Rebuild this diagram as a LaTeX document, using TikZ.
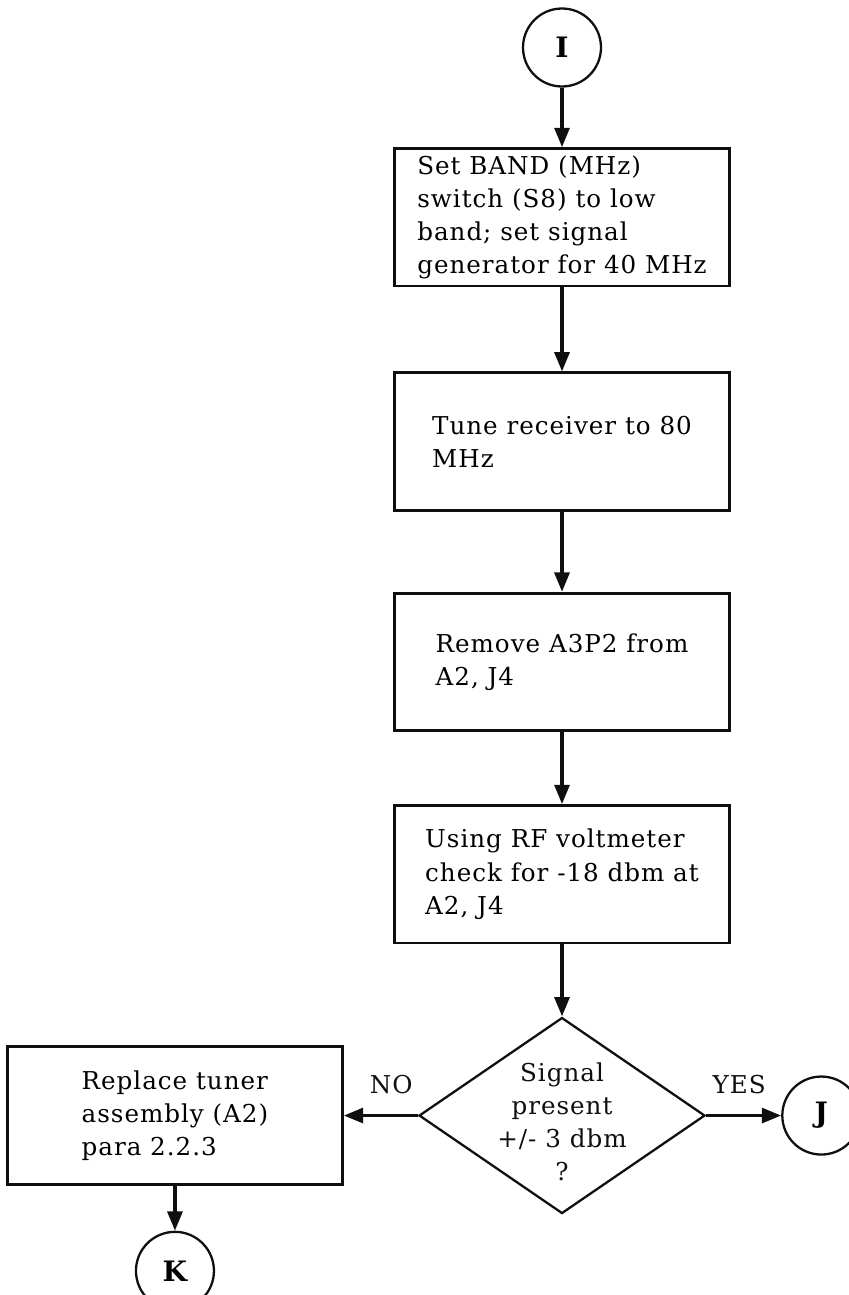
\documentclass[tikz,border=0pt]{standalone}
\usepackage{fontspec}
\setmainfont[LetterSpace=4]{DejaVu Serif}
\usetikzlibrary{shapes.geometric, arrows.meta, positioning}
\definecolor{colInk}{RGB}{15,15,15}
\tikzset{
  box/.style={
    rectangle, draw=colInk, line width=1.6pt,
    font=\fontsize{14}{18.8}\selectfont,
    align=left, inner sep=3pt
  },
  stepBox/.style={box, minimum width=6.7cm, minimum height=2.75cm},
  connector/.style={circle, draw=colInk, line width=1.3pt, minimum size=1.56cm, inner sep=0pt, font=\fontsize{16}{18}\selectfont\bfseries},
  decision/.style={diamond, draw=colInk, line width=1.3pt, minimum width=5.72cm, minimum height=3.92cm, inner sep=0pt},
  arr/.style={
    -{Triangle[length=11pt, width=8.5pt]}, line width=1.9pt, color=colInk
  },
  flowLabel/.style={font=\fontsize{14}{18.8}\selectfont, text=colInk}
}

\begin{document}
\begin{tikzpicture}[node distance=1.44cm]
  \useasboundingbox (0,0) rectangle (16.96,-25.9);

  \node[connector] (entryI) at (11.24,-0.95) {I};
  \node[stepBox, below=1.19cm of entryI] (setBand) {Set BAND (MHz)\\switch (S8) to low\\band; set signal\\generator for 40 MHz};
  \node[stepBox, below=1.68cm of setBand] (tuneRx) {Tune receiver to 80\\MHz};
  \node[stepBox, below=1.6cm of tuneRx] (removePlug) {Remove A3P2 from\\A2, J4};
  \node[stepBox, below=of removePlug] (checkLevel) {Using RF voltmeter\\check for -18 dbm at\\A2, J4};
  \node[decision, below=of checkLevel,
        label={[flowLabel, align=center, yshift=-0.12cm]center:{Signal\\present\\+/- 3 dbm\\?}}] (sigPresent) {};
  \node[stepBox, left=1.48cm of sigPresent] (replaceTuner) {Replace tuner\\assembly (A2)\\para 2.2.3};
  \node[connector, right=1.5cm of sigPresent] (exitJ) {J};
  \node[connector, below=0.9cm of replaceTuner] (exitK) {K};

  % main chain down the page
  \draw[arr] (entryI) -- (setBand);
  \draw[arr] (setBand) -- (tuneRx);
  \draw[arr] (tuneRx) -- (removePlug);
  \draw[arr] (removePlug) -- (checkLevel);
  \draw[arr] (checkLevel) -- (sigPresent);

  % decision branches
  \draw[arr] (sigPresent) -- node[flowLabel, above=8pt, pos=0.36] {NO} (replaceTuner);
  \draw[arr] (sigPresent) -- node[flowLabel, above=8pt, pos=0.44] {YES} (exitJ);

  % replace -> K
  \draw[arr] (replaceTuner) -- (exitK);

\end{tikzpicture}
\end{document}
